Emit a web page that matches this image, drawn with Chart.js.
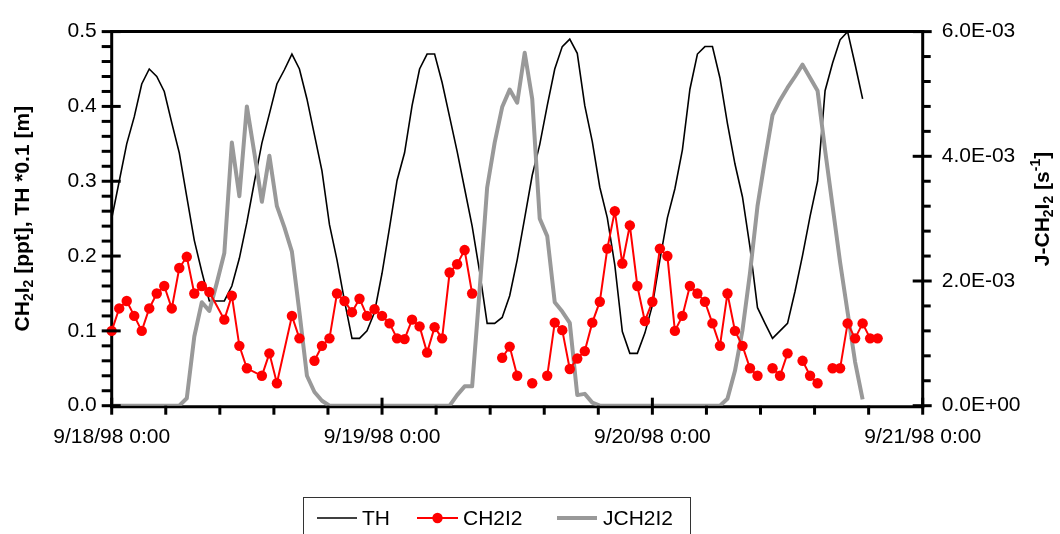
<!DOCTYPE html>
<html>
<head>
<meta charset="utf-8">
<script src="https://cdn.jsdelivr.net/npm/chart.js@4.4.1/dist/chart.umd.min.js"></script>
<style>
html,body{margin:0;padding:0;background:#fff;}
#wrap{position:relative;width:1060px;height:534px;overflow:hidden;}
</style>
</head>
<body>
<div id="wrap"><canvas id="c" width="1060" height="534"></canvas></div>
<script>
// ---------- data ----------
const dayLabels = ['9/18/98 0:00', '9/19/98 0:00', '9/20/98 0:00', '9/21/98 0:00'];
const leftTickLabels = ['0.0', '0.1', '0.2', '0.3', '0.4', '0.5'];
const rightTickLabels = ['0.0E+00', '2.0E-03', '4.0E-03', '6.0E-03'];
const seriesNames = ['TH', 'CH2I2', 'JCH2I2'];
const leftTitleParts = [['CH', 'n'], ['2', 'sub'], ['I', 'n'], ['2', 'sub'], [' [ppt], TH *0.1 [m]', 'n']];
const rightTitleParts = [['J-CH', 'n'], ['2', 'sub'], ['I', 'n'], ['2', 'sub'], [' [s', 'n'], ['-1', 'sup'], [']', 'n']];

const sampleStepHours = 40 / 60;   // one sample every 40 minutes from 9/18/98 0:00

const thValues = [
  0.250, 0.300, 0.350, 0.386, 0.430, 0.450, 0.440, 0.420, 0.378, 0.338,
  0.279, 0.221, 0.179, 0.140, 0.140, 0.140, 0.160, 0.197, 0.245, 0.299,
  0.351, 0.390, 0.430, 0.449, 0.470, 0.450, 0.410, 0.362, 0.314, 0.242,
  0.195, 0.140, 0.090, 0.090, 0.100, 0.125, 0.177, 0.238, 0.301, 0.338,
  0.401, 0.450, 0.470, 0.470, 0.432, 0.386, 0.340, 0.290, 0.240, 0.179,
  0.110, 0.110, 0.118, 0.147, 0.195, 0.251, 0.308, 0.349, 0.401, 0.450,
  0.480, 0.490, 0.471, 0.401, 0.353, 0.292, 0.251, 0.188, 0.099, 0.070,
  0.070, 0.097, 0.134, 0.195, 0.251, 0.290, 0.342, 0.423, 0.470, 0.480,
  0.480, 0.438, 0.377, 0.323, 0.279, 0.212, 0.131, 0.110, 0.090, 0.100,
  0.110, 0.153, 0.201, 0.253, 0.300, 0.421, 0.458, 0.489, 0.500, 0.456,
  0.410
];

// null = no sample (line broken)
const ch2i2Values = [
  0.100, 0.130, 0.140, 0.120, 0.100, 0.130, 0.150, 0.160, 0.130, 0.184,
  0.199, 0.150, 0.160, 0.152, null, 0.115, 0.147, 0.080, 0.050, null,
  0.040, 0.070, 0.030, null, 0.120, 0.090, null, 0.060, 0.080, 0.090,
  0.150, 0.140, 0.125, 0.143, 0.120, 0.129, 0.120, 0.110, 0.090, 0.089,
  0.115, 0.106, 0.071, 0.105, 0.090, 0.178, 0.189, 0.208, 0.150, null,
  null, null, 0.064, 0.079, 0.040, null, 0.030, null, 0.040, 0.111,
  0.101, 0.049, 0.063, 0.073, 0.111, 0.139, 0.210, 0.260, 0.190, 0.241,
  0.160, 0.113, 0.139, 0.210, 0.200, 0.100, 0.120, 0.160, 0.150, 0.139,
  0.110, 0.080, 0.150, 0.100, 0.080, 0.050, 0.040, null, 0.050, 0.040,
  0.070, null, 0.060, 0.040, 0.030, null, 0.050, 0.050, 0.110, 0.090,
  0.110, 0.090, 0.090
];
// missing samples across which the line is still drawn
const ch2i2Bridged = [14, 19, 23];

const jch2i2Values = [
  0, 0, 0, 0, 0, 0, 0, 0, 0, 0,
  0.00012, 0.00111, 0.00166, 0.00152, 0.00197, 0.00245, 0.00422, 0.00336, 0.00480, 0.00405,
  0.00327, 0.00401, 0.00320, 0.00286, 0.00247, 0.00150, 0.00048, 0.00022, 0.00008, 0,
  0, 0, 0, 0, 0, 0, 0, 0, 0, 0,
  0, 0, 0, 0, 0, 0, 0.00017, 0.00031, 0.00031, 0.00186,
  0.00350, 0.00422, 0.00479, 0.00507, 0.00486, 0.00566, 0.00492, 0.00300, 0.00272, 0.00166,
  0.00151, 0.00133, 0.00017, 0.00019, 0.00005, 0, 0, 0, 0, 0,
  0, 0, 0, 0, 0, 0, 0, 0, 0, 0,
  0, 0, 0.00011, 0.00056, 0.00121, 0.00213, 0.00320, 0.00395, 0.00466, 0.00490,
  0.00510, 0.00528, 0.00547, 0.00526, 0.00505, 0.00410, 0.00320, 0.00230, 0.00150, 0.00070,
  0.00010
];

// ---------- build point lists ----------
const thPts = thValues.map((v, i) => ({x: i * sampleStepHours, y: v}));
const jPts = jch2i2Values.map((v, i) => ({x: i * sampleStepHours, y: v}));
const chPts = [];
ch2i2Values.forEach((v, i) => {
  if (v === null && ch2i2Bridged.includes(i)) return;
  chPts.push({x: i * sampleStepHours, y: v});
});

const FONT = '"Liberation Sans", Arial, Helvetica, sans-serif';
const FS = 21;
const RED = '#ff0000', GRAY = '#999999', BLACK = '#000000';

function line(ctx, x1, y1, x2, y2) {
  ctx.beginPath(); ctx.moveTo(x1, y1); ctx.lineTo(x2, y2); ctx.stroke();
}

function drawRich(ctx, parts, cx, cy, size) {
  ctx.save();
  ctx.translate(cx, cy);
  ctx.rotate(-Math.PI / 2);
  ctx.fillStyle = '#000';
  ctx.textBaseline = 'alphabetic';
  ctx.textAlign = 'left';
  const fontFor = m => 'bold ' + (m === 'n' ? size : Math.round(size * 0.66)) + 'px ' + FONT;
  let total = 0;
  const widths = parts.map(([t, m]) => { ctx.font = fontFor(m); const w = ctx.measureText(t).width; total += w; return w; });
  let x = -total / 2;
  const base = size * 0.36;
  parts.forEach(([t, m], k) => {
    ctx.font = fontFor(m);
    let dy = 0;
    if (m === 'sub') dy = size * 0.2;
    if (m === 'sup') dy = -size * 0.42;
    ctx.fillText(t, x, base + dy);
    x += widths[k];
  });
  ctx.restore();
}

const decoPlugin = {
  id: 'deco',
  beforeDatasetsDraw(chart) {
    const {ctx, chartArea: a} = chart;
    ctx.save();
    ctx.strokeStyle = BLACK; ctx.lineWidth = 3; ctx.lineCap = 'square';
    line(ctx, a.left, a.top, a.right, a.top);
    line(ctx, a.left, a.top, a.left, a.bottom + 1);
    line(ctx, a.right, a.top, a.right, a.bottom + 1);
    line(ctx, a.left, a.bottom + 1, a.right, a.bottom + 1);
    ctx.restore();
  },
  afterDraw(chart) {
    const {ctx, chartArea: a} = chart;
    const xs = chart.scales.x, yl = chart.scales.y, yr = chart.scales.y2;
    ctx.save();
    ctx.strokeStyle = BLACK; ctx.lineWidth = 3; ctx.lineCap = 'butt';
    // left axis ticks: major 0.1, minor 0.02
    for (let k = 0; k <= 25; k++) {
      const py = yl.getPixelForValue(k * 0.02);
      if (k % 5 === 0) line(ctx, a.left - 10, py, a.left + 9, py);
      else line(ctx, a.left - 10, py, a.left, py);
    }
    // right axis ticks: major 2E-3, minor 4E-4
    for (let k = 0; k <= 15; k++) {
      const py = yr.getPixelForValue(k * 0.0004);
      if (k % 5 === 0) line(ctx, a.right - 10, py, a.right + 9, py);
      else line(ctx, a.right, py, a.right + 8, py);
    }
    // x axis ticks: major 1 day, minor 0.2 day
    for (let k = 0; k <= 15; k++) {
      const px = xs.getPixelForValue(k * 4.8);
      if (k % 5 === 0) line(ctx, px, a.bottom - 8, px, a.bottom + 9);
      else line(ctx, px, a.bottom, px, a.bottom + 9);
    }
    ctx.restore();

    // axis titles
    drawRich(ctx, leftTitleParts, 21, (a.top + a.bottom) / 2, FS);
    drawRich(ctx, rightTitleParts, 1041, 209, FS);

    // legend
    ctx.save();
    ctx.strokeStyle = '#333'; ctx.lineWidth = 1;
    ctx.strokeRect(303.5, 497.5, 387, 44);
    const ly = 518;
    ctx.font = FS + 'px ' + FONT; ctx.fillStyle = '#000';
    ctx.textBaseline = 'middle'; ctx.textAlign = 'left';
    const ds = chart.data.datasets;
    const byName = n => ds.find(d => d.label === n);
    const items = [
      {name: seriesNames[0], x0: 317, x1: 357, tx: 362},
      {name: seriesNames[1], x0: 417, x1: 458, tx: 463},
      {name: seriesNames[2], x0: 557, x1: 597, tx: 603}
    ];
    items.forEach(it => {
      const d = byName(it.name);
      ctx.strokeStyle = d.borderColor; ctx.lineWidth = d.borderWidth;
      line(ctx, it.x0, ly, it.x1, ly);
      if (d.pointRadius > 0) {
        ctx.fillStyle = d.pointBackgroundColor;
        ctx.beginPath(); ctx.arc((it.x0 + it.x1) / 2, ly, d.pointRadius, 0, Math.PI * 2); ctx.fill();
      }
      ctx.fillStyle = '#000';
      ctx.fillText(it.name, it.tx, ly + 1);
    });
    ctx.restore();
  }
};

new Chart(document.getElementById('c').getContext('2d'), {
  type: 'line',
  data: {
    datasets: [
      {label: seriesNames[1], data: chPts, yAxisID: 'y', borderColor: RED, backgroundColor: RED,
       borderWidth: 2, pointRadius: 5.2, pointBackgroundColor: RED, pointBorderColor: RED, pointBorderWidth: 0,
       spanGaps: false, tension: 0, clip: false, order: 0},
      {label: seriesNames[2], data: jPts, yAxisID: 'y2', borderColor: GRAY, backgroundColor: GRAY,
       borderWidth: 4, pointRadius: 0, tension: 0, order: 1, borderJoinStyle: 'round'},
      {label: seriesNames[0], data: thPts, yAxisID: 'y', borderColor: BLACK, backgroundColor: BLACK,
       borderWidth: 1.6, pointRadius: 0, tension: 0, order: 2, clip: false}
    ]
  },
  options: {
    responsive: false,
    animation: false,
    devicePixelRatio: 1,
    layout: {padding: {top: 22.7, left: 0, right: 0, bottom: 0}},
    plugins: {legend: {display: false}, tooltip: {enabled: false}},
    scales: {
      x: {
        type: 'linear', position: 'bottom', min: 0, max: 72,
        grid: {display: false, drawTicks: false}, border: {display: false},
        ticks: {stepSize: 24, autoSkip: false, maxRotation: 0, padding: 19, color: '#000',
                font: {family: FONT, size: FS}, callback: (v, i) => dayLabels[i]},
        afterFit: s => { s.height = 128.3; }
      },
      y: {
        type: 'linear', position: 'left', min: 0, max: 0.5,
        grid: {display: false, drawTicks: false}, border: {display: false},
        ticks: {stepSize: 0.1, padding: 15, color: '#000', font: {family: FONT, size: FS},
                callback: (v, i) => leftTickLabels[i]},
        afterFit: s => { s.width = 111.7; }
      },
      y2: {
        type: 'linear', position: 'right', min: 0, max: 0.006,
        grid: {display: false, drawTicks: false}, border: {display: false},
        ticks: {stepSize: 0.002, padding: 19, color: '#000', font: {family: FONT, size: FS},
                callback: (v, i) => rightTickLabels[i]},
        afterFit: s => { s.width = 137.3; }
      }
    }
  },
  plugins: [decoPlugin]
});
</script>
</body>
</html>
